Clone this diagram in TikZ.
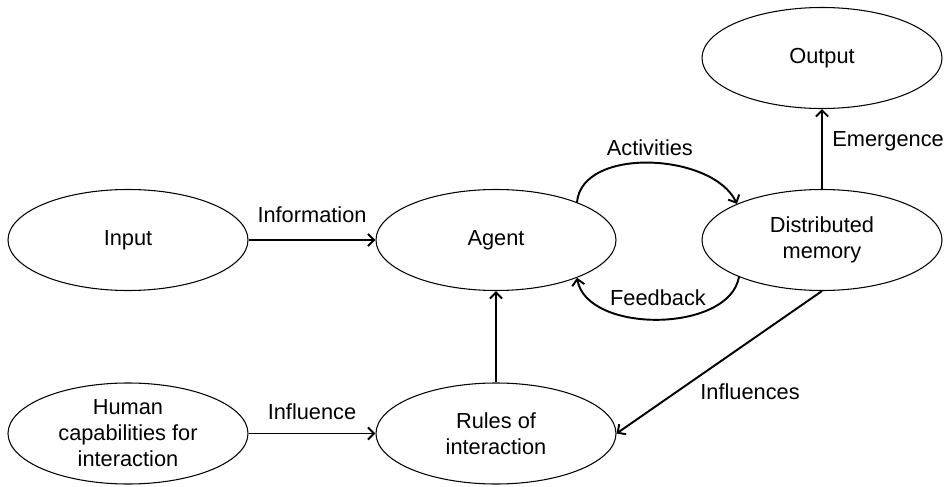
\documentclass[tikz,border=0pt]{standalone}
\usepackage{fontspec}
\setmainfont{Liberation Sans}
\usetikzlibrary{shapes.geometric,arrows.meta,positioning}

\begin{document}
\begin{tikzpicture}[
    font=\fontsize{12.4}{14.8}\selectfont,
    bubble/.style={ellipse, draw, line width=0.6pt, inner sep=0pt,
        minimum width=4.8cm, minimum height=2.02cm, align=center},
    flow/.style={line width=1.1pt, -{Straight Barb[length=3.5pt,width=7pt]}}
]
    \useasboundingbox (0,0) rectangle (18.88,9.72);
    % the six ellipses
    \node[bubble] (input)  at (2.56,4.92)  {Input};
    \node[bubble] (agent)  at (9.92,4.92)  {Agent};
    \node[bubble] (memory) at (16.44,4.92) {Distributed\\memory};
    \node[bubble] (output) at (16.44,8.56) {Output};
    \node[bubble] (human)  at (2.56,1.05)  {Human\\capabilities for\\interaction};
    \node[bubble] (rules)  at (9.92,1.05)  {Rules of\\interaction};

    % straight connectors
    \draw[flow] (input) -- node[above=6pt] {Information} (agent);
    \draw[flow] (human) -- node[above=4pt] {Influence} (rules);
    \draw[flow] (rules) -- (agent);
    \draw[flow] (memory) -- node[pos=0.6, right=2pt] {Emergence} (output);
    \draw[flow] (memory.south) -- node[pos=0.35, below=20.5pt] {Influences} (rules.east);

    % loop between agent and memory
    \draw[flow] (agent.25) to[out=85, in=115, looseness=0.9]
        node[midway, above] {Activities} (memory.157);
    \draw[flow] (memory.204) to[out=-100, in=-80, looseness=0.9]
        node[midway, above=4pt] {Feedback} (agent.-25);
\end{tikzpicture}
\end{document}
